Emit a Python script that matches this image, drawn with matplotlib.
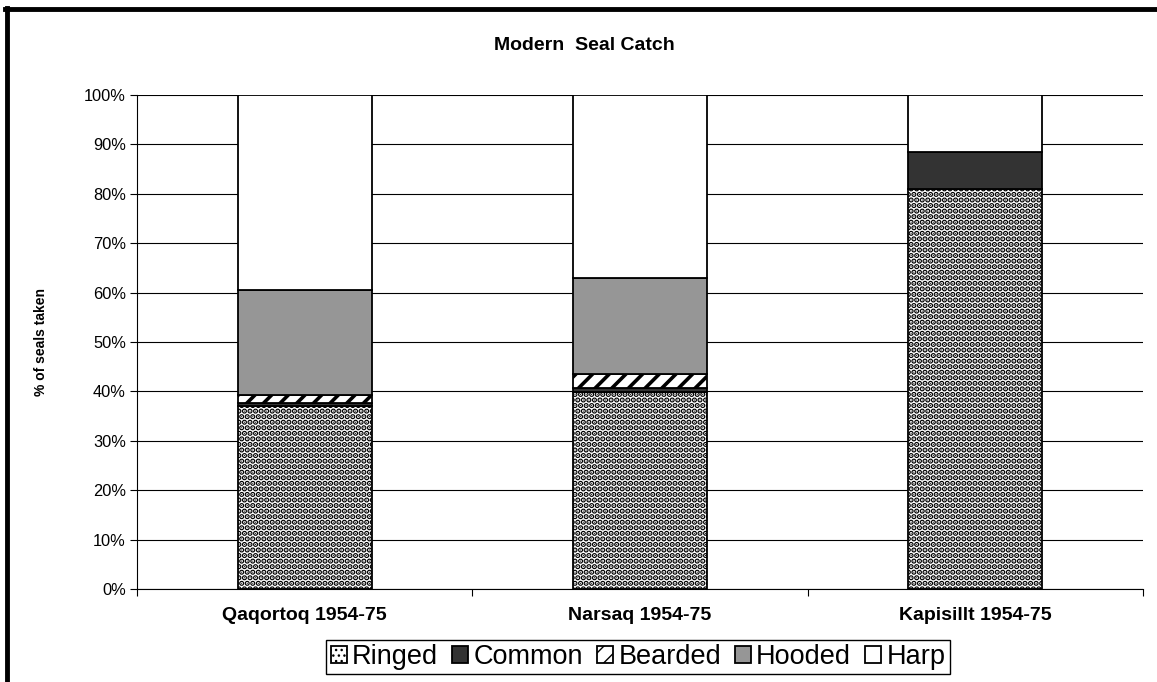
import numpy as np
import matplotlib
matplotlib.use("Agg")
import matplotlib.pyplot as plt
from matplotlib.lines import Line2D
from matplotlib.ticker import FixedLocator, PercentFormatter

plt.rcParams['font.family'] = ['Liberation Sans', 'DejaVu Sans']

sites = ['Qaqortoq 1954-75', 'Narsaq 1954-75', 'Kapisillt 1954-75']
species = ['Ringed', 'Common', 'Bearded', 'Hooded', 'Harp']
ringed = [37.0, 39.8, 81.0]
common = [0.6, 0.8, 7.5]
bearded = [1.6, 2.9, 0.0]
hooded = [21.3, 19.5, 0.0]
harp = [39.5, 37.0, 11.5]

series = [ringed, common, bearded, hooded, harp]
colors = ['white', '#333333', 'white', '#969696', 'white']
hatches = ['...', None, '//', None, None]
hatch_lw = [2.8, 1.0, 2.6, 1.0, 1.0]

fig = plt.figure(figsize=(11.57, 6.82), dpi=100)
ax = fig.add_axes([137 / 1157, 1 - 589 / 682, (1143 - 137) / 1157, (589 - 95) / 682])

x = np.arange(len(sites))
bottom = np.zeros(len(sites))
for vals, name, col, h, hl in zip(series, species, colors, hatches, hatch_lw):
    with plt.rc_context({'hatch.linewidth': hl}):
        bars = ax.bar(x, vals, 0.4, bottom=bottom, color=col, edgecolor='black',
                      linewidth=1.3, hatch=h, label=name, zorder=3)
    bottom += np.array(vals)

ax.set_xlim(-0.5, 2.5)
ax.set_ylim(0, 100)
ax.yaxis.set_major_locator(FixedLocator(np.arange(0, 101, 10)))
ax.yaxis.set_major_formatter(PercentFormatter(decimals=0))
ax.grid(axis='y', color='black', linewidth=0.8, zorder=0)
ax.set_axisbelow(True)

ax.set_xticks(x)
ax.set_xticklabels(sites, fontsize=14, fontweight='bold')
ax.xaxis.set_minor_locator(FixedLocator([-0.5, 0.5, 1.5, 2.5]))
ax.tick_params(axis='x', which='major', length=0, pad=13)
ax.tick_params(axis='x', which='minor', length=5, width=0.8)
ax.tick_params(axis='y', length=5, width=0.8, labelsize=11.8, pad=3)

for s in ['top', 'right']:
    ax.spines[s].set_visible(False)
ax.spines['left'].set_linewidth(0.8)
ax.spines['bottom'].set_linewidth(0.8)

ax.set_ylabel('% of seals taken', fontsize=10, fontweight='bold')
ax.yaxis.set_label_coords(-0.0885, 0.5)

fig.text(584 / 1157, 1 - 45 / 682, 'Modern  Seal Catch', ha='center', va='center',
         fontsize=14, fontweight='bold')

leg = ax.legend(loc='center', bbox_to_anchor=(638 / 1157, 1 - 657 / 682),
                bbox_transform=fig.transFigure, ncol=5, fontsize=19.5,
                frameon=True, fancybox=False, edgecolor='black', framealpha=1,
                handlelength=0.6, handleheight=0.6, handletextpad=0.2,
                columnspacing=0.5, borderpad=0.15, borderaxespad=0)
leg.get_frame().set_linewidth(1.0)

# thick border on the left and top of the chart area
fig.add_artist(Line2D([7 / 1157, 7 / 1157], [0, 1 - 8 / 682], color='black', linewidth=3.5))
fig.add_artist(Line2D([5 / 1157, 1], [1 - 9 / 682, 1 - 9 / 682], color='black', linewidth=3.5))

fig.savefig('out.png', dpi=100)
